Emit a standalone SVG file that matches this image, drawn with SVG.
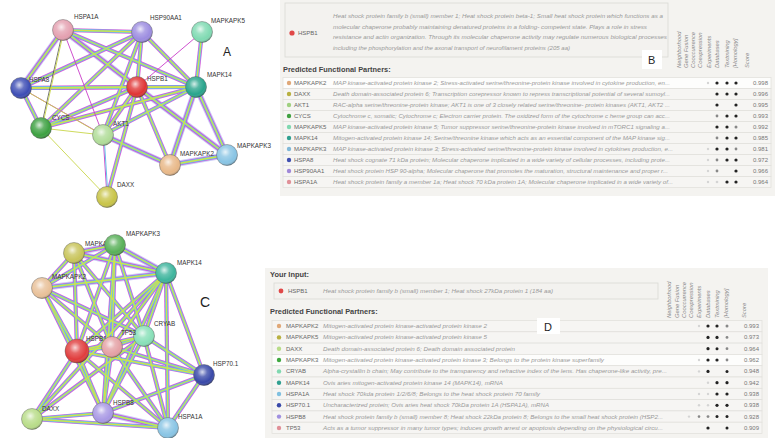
<svg xmlns="http://www.w3.org/2000/svg" width="775" height="438" viewBox="0 0 775 438">
<defs>
<radialGradient id="sh" cx="0.42" cy="0.36" r="0.66">
<stop offset="0" stop-color="#fff" stop-opacity="0.8"/>
<stop offset="0.35" stop-color="#fff" stop-opacity="0.22"/>
<stop offset="0.75" stop-color="#fff" stop-opacity="0"/>
<stop offset="1" stop-color="#000" stop-opacity="0.32"/>
</radialGradient>
<g id="eA">
<line x1="63" y1="30" x2="142" y2="32"/>
<line x1="63" y1="30" x2="21" y2="88"/>
<line x1="63" y1="30" x2="137" y2="87"/>
<line x1="63" y1="30" x2="196" y2="87"/>
<line x1="142" y1="32" x2="21" y2="88"/>
<line x1="142" y1="32" x2="137" y2="87"/>
<line x1="142" y1="32" x2="196" y2="87"/>
<line x1="142" y1="32" x2="41" y2="128"/>
<line x1="142" y1="32" x2="103" y2="135"/>
<line x1="202" y1="32" x2="196" y2="87"/>
<line x1="21" y1="88" x2="137" y2="87"/>
<line x1="21" y1="88" x2="196" y2="87"/>
<line x1="21" y1="88" x2="41" y2="128"/>
<line x1="137" y1="87" x2="196" y2="87"/>
<line x1="137" y1="87" x2="41" y2="128"/>
<line x1="137" y1="87" x2="103" y2="135"/>
<line x1="137" y1="87" x2="170" y2="165"/>
<line x1="137" y1="87" x2="227" y2="155"/>
<line x1="137" y1="87" x2="107" y2="197"/>
<line x1="196" y1="87" x2="41" y2="128"/>
<line x1="196" y1="87" x2="103" y2="135"/>
<line x1="196" y1="87" x2="170" y2="165"/>
<line x1="196" y1="87" x2="227" y2="155"/>
<line x1="103" y1="135" x2="170" y2="165"/>
<line x1="170" y1="165" x2="227" y2="155"/>
</g>
<g id="eAblue">
<line x1="63" y1="30" x2="137" y2="87"/>
<line x1="63" y1="30" x2="21" y2="88"/>
<line x1="103" y1="135" x2="170" y2="165"/>
<line x1="170" y1="165" x2="227" y2="155"/>
<line x1="196" y1="87" x2="170" y2="165"/>
<line x1="196" y1="87" x2="227" y2="155"/>
<line x1="137" y1="87" x2="227" y2="155"/>
</g>
<g id="eC">
<line x1="74" y1="253" x2="115" y2="245"/>
<line x1="74" y1="253" x2="166" y2="273"/>
<line x1="74" y1="253" x2="42" y2="288"/>
<line x1="74" y1="253" x2="77" y2="351"/>
<line x1="74" y1="253" x2="112" y2="347"/>
<line x1="74" y1="253" x2="144" y2="336"/>
<line x1="115" y1="245" x2="166" y2="273"/>
<line x1="115" y1="245" x2="42" y2="288"/>
<line x1="115" y1="245" x2="77" y2="351"/>
<line x1="115" y1="245" x2="112" y2="347"/>
<line x1="115" y1="245" x2="144" y2="336"/>
<line x1="115" y1="245" x2="103" y2="413"/>
<line x1="166" y1="273" x2="42" y2="288"/>
<line x1="166" y1="273" x2="77" y2="351"/>
<line x1="166" y1="273" x2="112" y2="347"/>
<line x1="166" y1="273" x2="144" y2="336"/>
<line x1="166" y1="273" x2="204" y2="375"/>
<line x1="166" y1="273" x2="168" y2="428"/>
<line x1="166" y1="273" x2="103" y2="413"/>
<line x1="166" y1="273" x2="32" y2="419"/>
<line x1="42" y1="288" x2="77" y2="351"/>
<line x1="42" y1="288" x2="112" y2="347"/>
<line x1="42" y1="288" x2="144" y2="336"/>
<line x1="42" y1="288" x2="103" y2="413"/>
<line x1="77" y1="351" x2="112" y2="347"/>
<line x1="77" y1="351" x2="144" y2="336"/>
<line x1="77" y1="351" x2="204" y2="375"/>
<line x1="77" y1="351" x2="32" y2="419"/>
<line x1="77" y1="351" x2="103" y2="413"/>
<line x1="77" y1="351" x2="168" y2="428"/>
<line x1="112" y1="347" x2="144" y2="336"/>
<line x1="112" y1="347" x2="204" y2="375"/>
<line x1="112" y1="347" x2="103" y2="413"/>
<line x1="112" y1="347" x2="168" y2="428"/>
<line x1="144" y1="336" x2="204" y2="375"/>
<line x1="144" y1="336" x2="103" y2="413"/>
<line x1="144" y1="336" x2="168" y2="428"/>
<line x1="144" y1="336" x2="32" y2="419"/>
<line x1="204" y1="375" x2="103" y2="413"/>
<line x1="204" y1="375" x2="168" y2="428"/>
<line x1="32" y1="419" x2="103" y2="413"/>
<line x1="32" y1="419" x2="168" y2="428"/>
<line x1="103" y1="413" x2="168" y2="428"/>
</g>
<g id="eCblue">
<line x1="74" y1="253" x2="115" y2="245"/>
<line x1="115" y1="245" x2="166" y2="273"/>
<line x1="74" y1="253" x2="166" y2="273"/>
<line x1="166" y1="273" x2="42" y2="288"/>
<line x1="103" y1="413" x2="168" y2="428"/>
</g>
</defs>
<style>
.lbl{font-family:"Liberation Sans",Arial,sans-serif;font-size:6.3px;fill:#333}
.big{font-family:"Liberation Sans",Arial,sans-serif;fill:#222}
.nd{stroke:#555;stroke-opacity:.55;stroke-width:.8}
.sh{fill:url(#sh)}
.k0{stroke:#8c8cf0;stroke-width:6;stroke-opacity:.45}
.k1{stroke:#d43ad4;stroke-width:4.2;stroke-opacity:.85}
.k2{stroke:#66c4ea;stroke-width:2.8}
.k3{stroke:#cfe24c;stroke-width:1.3}
.wy{stroke:#c8d64a;stroke-width:.9}
.wm{stroke:#c83cc8;stroke-width:.9}
.wk{stroke:#3a3a3a;stroke-width:.7}
.bg{fill:#f4f3f0}
.box{fill:#f3f2ef;stroke:#dad9d5;stroke-width:.8}
.row{fill:#f6f5f3;stroke:#e0dfdb;stroke-width:.7}
.roww{fill:#fdfdfc;stroke:#e0dfdb;stroke-width:.7}
.hd{font-family:"Liberation Sans",Arial,sans-serif;font-size:7.4px;font-weight:bold;fill:#444}
.nm{font-family:"Liberation Sans",Arial,sans-serif;font-size:6px;fill:#666}
.ds{font-family:"Liberation Sans",Arial,sans-serif;font-size:5.7px;font-style:italic;fill:#999}
.ch{font-family:"Liberation Sans",Arial,sans-serif;font-size:5.8px;font-style:italic;fill:#888}
.sc{font-family:"Liberation Sans",Arial,sans-serif;font-size:6px;fill:#777}
.d1{fill:#222}
.d2{fill:#888}
.d3{fill:#d4d4d4}
</style>
<rect width="775" height="438" fill="#fff"/>

<!-- Panel A -->
<g id="connectors-A" fill="none">
<use href="#eAblue" class="k0"/>
<use href="#eA" class="k1"/>
<use href="#eA" class="k2"/>
<use href="#eA" class="k3"/>
<line class="wm" x1="202" y1="32" x2="137" y2="87"/>
<line class="wm" x1="21" y1="88" x2="103" y2="135"/>
<line class="wy" x1="21" y1="88" x2="104" y2="136"/>
<line class="wm" x1="103" y1="135" x2="107" y2="197"/>
<line class="k2" x1="104" y1="135" x2="108" y2="197" style="stroke-width:1"/>
<line class="wk" x1="63" y1="30" x2="41" y2="128"/>
<line class="wy" x1="64" y1="30" x2="42" y2="128"/>
<line class="wm" x1="63" y1="30" x2="103" y2="135"/>
<line class="wy" x1="41" y1="128" x2="103" y2="135"/>
<line class="wy" x1="41" y1="128" x2="107" y2="197"/>
</g>
<g id="A-HSPA1A"><circle class="nd" cx="63" cy="30" r="10.5" fill="#e4a0b0"/><circle class="sh" cx="63" cy="30" r="10.5"/><text class="lbl" x="74" y="19">HSPA1A</text></g>
<g id="A-HSP90AA1"><circle class="nd" cx="142" cy="32" r="10.5" fill="#9c8ce0"/><circle class="sh" cx="142" cy="32" r="10.5"/><text class="lbl" x="150" y="20">HSP90AA1</text></g>
<g id="A-MAPKAPK5"><circle class="nd" cx="202" cy="32" r="10.5" fill="#7fdab2"/><circle class="sh" cx="202" cy="32" r="10.5"/><text class="lbl" x="211" y="23">MAPKAPK5</text></g>
<g id="A-HSPA8"><circle class="nd" cx="21" cy="88" r="10.5" fill="#3c4cb4"/><circle class="sh" cx="21" cy="88" r="10.5"/><text class="lbl" x="29" y="82">HSPA8</text></g>
<g id="A-HSPB1"><circle class="nd" cx="137" cy="87" r="10.5" fill="#e03434"/><circle class="sh" cx="137" cy="87" r="10.5"/><text class="lbl" x="147" y="81">HSPB1</text></g>
<g id="A-MAPK14"><circle class="nd" cx="196" cy="87" r="10.5" fill="#28a48c"/><circle class="sh" cx="196" cy="87" r="10.5"/><text class="lbl" x="207" y="77">MAPK14</text></g>
<g id="A-CYCS"><circle class="nd" cx="41" cy="128" r="10.5" fill="#3ca040"/><circle class="sh" cx="41" cy="128" r="10.5"/><text class="lbl" x="52" y="120">CYCS</text></g>
<g id="A-AKT1"><circle class="nd" cx="103" cy="135" r="10.5" fill="#b0dc98"/><circle class="sh" cx="103" cy="135" r="10.5"/><text class="lbl" x="113" y="126">AKT1</text></g>
<g id="A-MAPKAPK2"><circle class="nd" cx="170" cy="165" r="10.5" fill="#e8b888"/><circle class="sh" cx="170" cy="165" r="10.5"/><text class="lbl" x="180" y="156">MAPKAPK2</text></g>
<g id="A-MAPKAPK3"><circle class="nd" cx="227" cy="155" r="10.5" fill="#88c4e4"/><circle class="sh" cx="227" cy="155" r="10.5"/><text class="lbl" x="237" y="148">MAPKAPK3</text></g>
<g id="A-DAXX"><circle class="nd" cx="107" cy="197" r="10.5" fill="#c8c448"/><circle class="sh" cx="107" cy="197" r="10.5"/><text class="lbl" x="117" y="187">DAXX</text></g>
<text class="big" x="223" y="56" font-size="12">A</text>

<!-- Panel C -->
<g id="connectors-C" fill="none">
<use href="#eCblue" class="k0"/>
<use href="#eC" class="k1"/>
<use href="#eC" class="k2"/>
<use href="#eC" class="k3"/>
</g>
<g id="C-MAPKAPK5"><circle class="nd" cx="74" cy="253" r="10.5" fill="#c8c45a"/><circle class="sh" cx="74" cy="253" r="10.5"/><text class="lbl" x="85" y="246">MAPKAPK5</text></g>
<g id="C-MAPKAPK3"><circle class="nd" cx="115" cy="245" r="10.5" fill="#58b058"/><circle class="sh" cx="115" cy="245" r="10.5"/><text class="lbl" x="126" y="236">MAPKAPK3</text></g>
<g id="C-MAPK14"><circle class="nd" cx="166" cy="273" r="10.5" fill="#3cb49c"/><circle class="sh" cx="166" cy="273" r="10.5"/><text class="lbl" x="177" y="265">MAPK14</text></g>
<g id="C-MAPKAPK2"><circle class="nd" cx="42" cy="288" r="10.5" fill="#e8c098"/><circle class="sh" cx="42" cy="288" r="10.5"/><text class="lbl" x="52" y="279">MAPKAPK2</text></g>
<g id="C-CRYAB"><circle class="nd" cx="144" cy="336" r="10.5" fill="#88e0b8"/><circle class="sh" cx="144" cy="336" r="10.5"/><text class="lbl" x="154" y="326">CRYAB</text></g>
<g id="C-HSPB1"><circle class="nd" cx="77" cy="351" r="12" fill="#e03c3c"/><circle class="sh" cx="77" cy="351" r="12"/><text class="lbl" x="86" y="341">HSPB1</text></g>
<g id="C-TP53"><circle class="nd" cx="112" cy="347" r="10.5" fill="#e4a0a4"/><circle class="sh" cx="112" cy="347" r="10.5"/><text class="lbl" x="121" y="335">TP53</text></g>
<g id="C-HSP70.1"><circle class="nd" cx="204" cy="375" r="10.5" fill="#3848a8"/><circle class="sh" cx="204" cy="375" r="10.5"/><text class="lbl" x="213" y="366">HSP70.1</text></g>
<g id="C-DAXX"><circle class="nd" cx="32" cy="419" r="10.5" fill="#b8dc88"/><circle class="sh" cx="32" cy="419" r="10.5"/><text class="lbl" x="42" y="411">DAXX</text></g>
<g id="C-HSPB8"><circle class="nd" cx="103" cy="413" r="10.5" fill="#a898e4"/><circle class="sh" cx="103" cy="413" r="10.5"/><text class="lbl" x="113" y="405">HSPB8</text></g>
<g id="C-HSPA1A"><circle class="nd" cx="168" cy="428" r="10.5" fill="#88c4e4"/><circle class="sh" cx="168" cy="428" r="10.5"/><text class="lbl" x="178" y="419">HSPA1A</text></g>
<text class="big" x="200" y="307" font-size="14" font-weight="300">C</text>

<!-- Panel B -->
<g id="panel-B">
<rect class="bg" x="280" y="0" width="495" height="196"/>
<rect class="box" x="285" y="3" width="383" height="54"/>
<circle cx="292" cy="33" r="2.6" fill="#e04848"/>
<text class="nm" x="298" y="35">HSPB1</text>
<text class="ds" x="333" y="18" textLength="330" lengthAdjust="spacingAndGlyphs">Heat shock protein family b (small) member 1; Heat shock protein beta-1; Small heat shock protein which functions as a</text>
<text class="ds" x="333" y="28.5" textLength="314" lengthAdjust="spacingAndGlyphs">molecular chaperone probably maintaining denatured proteins in a folding- competent state. Plays a role in stress</text>
<text class="ds" x="333" y="39" textLength="334" lengthAdjust="spacingAndGlyphs">resistance and actin organization. Through its molecular chaperone activity may regulate numerous biological processes</text>
<text class="ds" x="333" y="49.5" textLength="237" lengthAdjust="spacingAndGlyphs">including the phosphorylation and the axonal transport of neurofilament proteins (205 aa)</text>
<rect x="642" y="50" width="20" height="19" fill="#fff"/>
<text class="big" x="648" y="64" font-size="11">B</text>
<text class="hd" x="283" y="72">Predicted Functional Partners:</text>
<g class="ch">
<text transform="translate(681,68) rotate(-90)">Neighborhood</text>
<text transform="translate(688,68) rotate(-90)">Gene Fusion</text>
<text transform="translate(695,68) rotate(-90)">Cooccurrence</text>
<text transform="translate(701.5,68) rotate(-90)">Coexpression</text>
<text transform="translate(711,68) rotate(-90)">Experiments</text>
<text transform="translate(719,68) rotate(-90)">Databases</text>
<text transform="translate(729,68) rotate(-90)">Textmining</text>
<text transform="translate(737,68) rotate(-90)">[Homology]</text>
<text transform="translate(749,68) rotate(-90)">Score</text>
</g>
<rect class="roww" x="283" y="77.5" width="488" height="11"/>
<rect class="row" x="283" y="88.5" width="488" height="11"/>
<rect class="row" x="283" y="99.5" width="488" height="11"/>
<rect class="row" x="283" y="110.5" width="488" height="11"/>
<rect class="row" x="283" y="121.5" width="488" height="11"/>
<rect class="row" x="283" y="132.5" width="488" height="11"/>
<rect class="row" x="283" y="143.5" width="488" height="11"/>
<rect class="row" x="283" y="154.5" width="488" height="11"/>
<rect class="row" x="283" y="165.5" width="488" height="11"/>
<rect class="row" x="283" y="176.5" width="488" height="11"/>
<circle cx="289" cy="83" r="2.2" fill="#e0a878"/><circle cx="289" cy="94" r="2.2" fill="#b8b040"/><circle cx="289" cy="105" r="2.2" fill="#a0d080"/><circle cx="289" cy="116" r="2.2" fill="#40a040"/><circle cx="289" cy="127" r="2.2" fill="#80d8b0"/><circle cx="289" cy="138" r="2.2" fill="#30a090"/><circle cx="289" cy="149" r="2.2" fill="#80b8d8"/><circle cx="289" cy="160" r="2.2" fill="#4050b0"/><circle cx="289" cy="171" r="2.2" fill="#a088d8"/><circle cx="289" cy="182" r="2.2" fill="#e09098"/>
<text class="nm" x="294" y="85">MAPKAPK2</text>
<text class="nm" x="294" y="96">DAXX</text>
<text class="nm" x="294" y="107">AKT1</text>
<text class="nm" x="294" y="118">CYCS</text>
<text class="nm" x="294" y="129">MAPKAPK5</text>
<text class="nm" x="294" y="140">MAPK14</text>
<text class="nm" x="294" y="151">MAPKAPK3</text>
<text class="nm" x="294" y="162">HSPA8</text>
<text class="nm" x="294" y="173">HSP90AA1</text>
<text class="nm" x="294" y="184">HSPA1A</text>
<text class="ds" x="333" y="85" textLength="337" lengthAdjust="spacingAndGlyphs">MAP kinase-activated protein kinase 2; Stress-activated serine/threonine-protein kinase involved in cytokine production, en...</text>
<text class="ds" x="333" y="96" textLength="337" lengthAdjust="spacingAndGlyphs">Death domain-associated protein 6; Transcription corepressor known to repress transcriptional potential of several sumoyl...</text>
<text class="ds" x="333" y="107" textLength="337" lengthAdjust="spacingAndGlyphs">RAC-alpha serine/threonine-protein kinase; AKT1 is one of 3 closely related serine/threonine- protein kinases (AKT1, AKT2 ...</text>
<text class="ds" x="333" y="118" textLength="337" lengthAdjust="spacingAndGlyphs">Cytochrome c, somatic; Cytochrome c; Electron carrier protein. The oxidized form of the cytochrome c heme group can acc...</text>
<text class="ds" x="333" y="129" textLength="337" lengthAdjust="spacingAndGlyphs">MAP kinase-activated protein kinase 5; Tumor suppressor serine/threonine-protein kinase involved in mTORC1 signaling a...</text>
<text class="ds" x="333" y="140" textLength="337" lengthAdjust="spacingAndGlyphs">Mitogen-activated protein kinase 14; Serine/threonine kinase which acts as an essential component of the MAP kinase sig...</text>
<text class="ds" x="333" y="151" textLength="340" lengthAdjust="spacingAndGlyphs">MAP kinase-activated protein kinase 3; Stress-activated serine/threonine-protein kinase involved in cytokines production, e...</text>
<text class="ds" x="333" y="162" textLength="337" lengthAdjust="spacingAndGlyphs">Heat shock cognate 71 kDa protein; Molecular chaperone implicated in a wide variety of cellular processes, including prote...</text>
<text class="ds" x="333" y="173" textLength="335" lengthAdjust="spacingAndGlyphs">Heat shock protein HSP 90-alpha; Molecular chaperone that promotes the maturation, structural maintenance and proper r...</text>
<text class="ds" x="333" y="184" textLength="340" lengthAdjust="spacingAndGlyphs">Heat shock protein family a member 1a; Heat shock 70 kDa protein 1A; Molecular chaperone implicated in a wide variety of...</text>
<circle class="d3" cx="708" cy="83" r="1.2"/><circle class="d1" cx="717" cy="83" r="1.6"/><circle class="d1" cx="727" cy="83" r="1.6"/><circle class="d1" cx="736" cy="83" r="1.6"/>
<circle class="d1" cx="717" cy="94" r="1.6"/><circle class="d1" cx="727" cy="94" r="1.6"/><circle class="d1" cx="736" cy="94" r="1.6"/>
<circle class="d1" cx="717" cy="105" r="1.6"/><circle class="d1" cx="736" cy="105" r="1.6"/>
<circle class="d2" cx="717" cy="116" r="1.4"/><circle class="d1" cx="727" cy="116" r="1.6"/><circle class="d1" cx="736" cy="116" r="1.6"/>
<circle class="d1" cx="717" cy="127" r="1.6"/><circle class="d1" cx="727" cy="127" r="1.6"/><circle class="d2" cx="736" cy="127" r="1.5"/>
<circle class="d2" cx="717" cy="138" r="1.4"/><circle class="d1" cx="727" cy="138" r="1.6"/><circle class="d1" cx="736" cy="138" r="1.6"/>
<circle class="d3" cx="708" cy="149" r="1.2"/><circle class="d1" cx="717" cy="149" r="1.6"/><circle class="d1" cx="727" cy="149" r="1.6"/><circle class="d2" cx="736" cy="149" r="1.4"/>
<circle class="d3" cx="708" cy="160" r="1.2"/><circle class="d2" cx="717" cy="160" r="1.4"/><circle class="d1" cx="727" cy="160" r="1.6"/><circle class="d1" cx="736" cy="160" r="1.6"/>
<circle class="d3" cx="708" cy="171" r="1.2"/><circle class="d2" cx="717" cy="171" r="1.4"/><circle class="d1" cx="736" cy="171" r="1.6"/>
<circle class="d3" cx="708" cy="182" r="1.2"/><circle class="d3" cx="717" cy="182" r="1.3"/><circle class="d1" cx="727" cy="182" r="1.6"/><circle class="d1" cx="736" cy="182" r="1.6"/>
<text class="sc" x="753" y="85">0.998</text>
<text class="sc" x="753" y="96">0.996</text>
<text class="sc" x="753" y="107">0.995</text>
<text class="sc" x="753" y="118">0.993</text>
<text class="sc" x="753" y="129">0.992</text>
<text class="sc" x="753" y="140">0.985</text>
<text class="sc" x="753" y="151">0.981</text>
<text class="sc" x="753" y="162">0.972</text>
<text class="sc" x="753" y="173">0.966</text>
<text class="sc" x="753" y="184">0.964</text>
</g>

<!-- Panel D -->
<g id="panel-D">
<rect class="bg" x="265" y="268" width="503" height="170"/>
<text class="hd" x="270" y="277">Your Input:</text>
<rect class="box" x="274" y="283" width="384" height="16"/>
<circle cx="281" cy="291" r="2.4" fill="#e04848"/>
<text class="nm" x="288" y="293">HSPB1</text>
<text class="ds" x="323" y="293" textLength="230" lengthAdjust="spacingAndGlyphs">Heat shock protein family b (small) member 1; Heat shock 27kDa protein 1 (184 aa)</text>
<text class="hd" x="270" y="314">Predicted Functional Partners:</text>
<g class="ch">
<text transform="translate(671,318) rotate(-90)">Neighborhood</text>
<text transform="translate(679,318) rotate(-90)">Gene Fusion</text>
<text transform="translate(686,318) rotate(-90)">Cooccurrence</text>
<text transform="translate(693,318) rotate(-90)">Coexpression</text>
<text transform="translate(701,318) rotate(-90)">Experiments</text>
<text transform="translate(710,318) rotate(-90)">Databases</text>
<text transform="translate(719,318) rotate(-90)">Textmining</text>
<text transform="translate(728,318) rotate(-90)">[Homology]</text>
<text transform="translate(746,318) rotate(-90)">Score</text>
</g>
<rect class="row" x="272" y="320.5" width="490" height="11.3"/>
<rect class="row" x="272" y="331.8" width="490" height="11.3"/>
<rect class="row" x="272" y="343.1" width="490" height="11.3"/>
<rect class="roww" x="272" y="354.4" width="490" height="11.3"/>
<rect class="row" x="272" y="365.7" width="490" height="11.3"/>
<rect class="row" x="272" y="377" width="490" height="11.3"/>
<rect class="row" x="272" y="388.3" width="490" height="11.3"/>
<rect class="row" x="272" y="399.6" width="490" height="11.3"/>
<rect class="row" x="272" y="410.9" width="490" height="11.3"/>
<rect class="row" x="272" y="422.2" width="490" height="11.3"/>
<rect x="537" y="318" width="23" height="16" fill="#fff"/>
<text class="big" x="544" y="331" font-size="11">D</text>
<circle cx="279" cy="326" r="2.2" fill="#e0a878"/><circle cx="279" cy="337.4" r="2.2" fill="#b8b040"/><circle cx="279" cy="348.7" r="2.2" fill="#b8dc88"/><circle cx="279" cy="360" r="2.2" fill="#40a840"/><circle cx="279" cy="371.4" r="2.2" fill="#80d8b0"/><circle cx="279" cy="382.7" r="2.2" fill="#30a090"/><circle cx="279" cy="394" r="2.2" fill="#80c0e0"/><circle cx="279" cy="405.3" r="2.2" fill="#3848a8"/><circle cx="279" cy="416.6" r="2.2" fill="#a090e0"/><circle cx="279" cy="428" r="2.2" fill="#e09098"/>
<text class="nm" x="286" y="328">MAPKAPK2</text>
<text class="nm" x="286" y="339.4">MAPKAPK5</text>
<text class="nm" x="286" y="350.7">DAXX</text>
<text class="nm" x="286" y="362">MAPKAPK3</text>
<text class="nm" x="286" y="373.4">CRYAB</text>
<text class="nm" x="286" y="384.7">MAPK14</text>
<text class="nm" x="286" y="396">HSPA1A</text>
<text class="nm" x="286" y="407.3">HSP70.1</text>
<text class="nm" x="286" y="418.6">HSPB8</text>
<text class="nm" x="286" y="430">TP53</text>
<text class="ds" x="323" y="328" textLength="164" lengthAdjust="spacingAndGlyphs">Mitogen-activated protein kinase-activated protein kinase 2</text>
<text class="ds" x="323" y="339.4" textLength="164" lengthAdjust="spacingAndGlyphs">Mitogen-activated protein kinase-activated protein kinase 5</text>
<text class="ds" x="323" y="350.7" textLength="192" lengthAdjust="spacingAndGlyphs">Death domain-associated protein 6; Death domain associated protein</text>
<text class="ds" x="323" y="362" textLength="281" lengthAdjust="spacingAndGlyphs">Mitogen-activated protein kinase-activated protein kinase 3; Belongs to the protein kinase superfamily</text>
<text class="ds" x="323" y="373.4" textLength="344" lengthAdjust="spacingAndGlyphs">Alpha-crystallin b chain; May contribute to the transparency and refractive index of the lens. Has chaperone-like activity, pre...</text>
<text class="ds" x="323" y="384.7" textLength="180" lengthAdjust="spacingAndGlyphs">Ovis aries mitogen-activated protein kinase 14 (MAPK14), mRNA</text>
<text class="ds" x="323" y="396" textLength="217" lengthAdjust="spacingAndGlyphs">Heat shock 70kda protein 1/2/6/8; Belongs to the heat shock protein 70 family</text>
<text class="ds" x="323" y="407.3" textLength="226" lengthAdjust="spacingAndGlyphs">Uncharacterized protein; Ovis aries heat shock 70kDa protein 1A (HSPA1A), mRNA</text>
<text class="ds" x="323" y="418.6" textLength="340" lengthAdjust="spacingAndGlyphs">Heat shock protein family b (small) member 8; Heat shock 22kDa protein 8; Belongs to the small heat shock protein (HSP2...</text>
<text class="ds" x="323" y="430" textLength="340" lengthAdjust="spacingAndGlyphs">Acts as a tumor suppressor in many tumor types; induces growth arrest or apoptosis depending on the physiological circu...</text>
<circle class="d3" cx="699" cy="326" r="1.2"/><circle class="d1" cx="708" cy="326" r="1.6"/><circle class="d1" cx="717" cy="326" r="1.6"/><circle class="d2" cx="727" cy="326" r="1.5"/>
<circle class="d1" cx="708" cy="337.4" r="1.6"/><circle class="d1" cx="717" cy="337.4" r="1.6"/><circle class="d2" cx="727" cy="337.4" r="1.4"/>
<circle class="d1" cx="708" cy="348.7" r="1.6"/><circle class="d1" cx="717" cy="348.7" r="1.5"/><circle class="d2" cx="727" cy="348.7" r="1.4"/>
<circle class="d3" cx="699" cy="360" r="1.2"/><circle class="d1" cx="708" cy="360" r="1.6"/><circle class="d1" cx="717" cy="360" r="1.6"/><circle class="d2" cx="727" cy="360" r="1.4"/>
<circle class="d3" cx="699" cy="371.4" r="1.2"/><circle class="d1" cx="708" cy="371.4" r="1.6"/><circle class="d1" cx="727" cy="371.4" r="1.5"/>
<circle class="d3" cx="708" cy="382.7" r="1.2"/><circle class="d1" cx="717" cy="382.7" r="1.6"/><circle class="d1" cx="727" cy="382.7" r="1.6"/>
<circle class="d3" cx="699" cy="394" r="1.2"/><circle class="d3" cx="708" cy="394" r="1.2"/><circle class="d1" cx="717" cy="394" r="1.6"/><circle class="d1" cx="727" cy="394" r="1.6"/>
<circle class="d3" cx="699" cy="405.3" r="1.2"/><circle class="d3" cx="708" cy="405.3" r="1.2"/><circle class="d1" cx="717" cy="405.3" r="1.6"/><circle class="d1" cx="727" cy="405.3" r="1.6"/>
<circle class="d3" cx="689" cy="416.6" r="1.2"/><circle class="d2" cx="699" cy="416.6" r="1.3"/><circle class="d2" cx="708" cy="416.6" r="1.4"/><circle class="d1" cx="717" cy="416.6" r="1.5"/><circle class="d1" cx="727" cy="416.6" r="1.5"/>
<circle class="d1" cx="708" cy="428" r="1.6"/><circle class="d1" cx="727" cy="428" r="1.5"/>
<text class="sc" x="744" y="328">0.993</text>
<text class="sc" x="744" y="339.4">0.973</text>
<text class="sc" x="744" y="350.7">0.964</text>
<text class="sc" x="744" y="362">0.962</text>
<text class="sc" x="744" y="373.4">0.948</text>
<text class="sc" x="744" y="384.7">0.942</text>
<text class="sc" x="744" y="396">0.938</text>
<text class="sc" x="744" y="407.3">0.938</text>
<text class="sc" x="744" y="418.6">0.928</text>
<text class="sc" x="744" y="430">0.909</text>
</g>
</svg>
